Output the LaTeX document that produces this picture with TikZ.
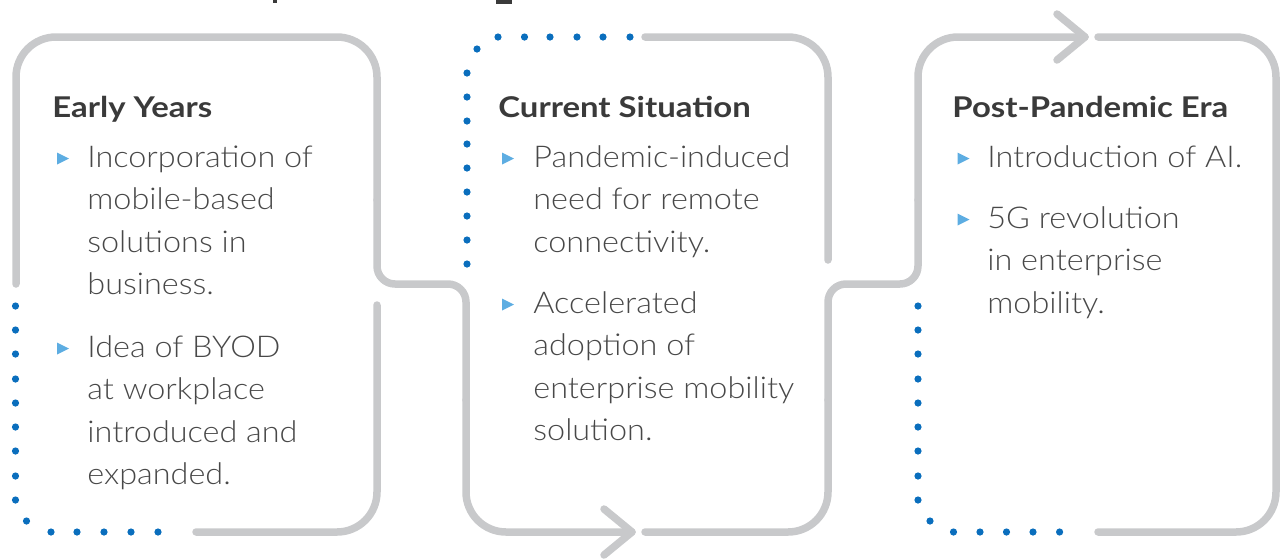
\documentclass[tikz,border=0pt]{standalone}
\usepackage{fontspec}
\setmainfont{Lato}
\newfontfamily\bodyfamily{Lato}[UprightFont={* Light}, FakeStretch=1.08]
\newfontfamily\headfamily{Lato}[UprightFont={* Bold}, FakeStretch=1.15]

\definecolor{framegray}{HTML}{C8C9CB}
\definecolor{dotblue}{HTML}{0A6EBD}
\definecolor{tipblue}{HTML}{5DADE2}
\definecolor{headgray}{HTML}{3A3A3A}
\definecolor{bodygray}{HTML}{484848}

\newcommand\itemlines[1]{\begin{tabular}[t]{@{}l@{}}#1\end{tabular}}

\tikzset{
  frame/.style={draw=framegray, line width=3.75pt, line cap=round, line join=round},
  bigbend/.style={frame, rounded corners=20pt},
  smallbend/.style={frame, rounded corners=9pt},
  heading/.style={anchor=base west, inner sep=0pt, text=headgray,
    font=\headfamily\fontsize{14.3}{17}\selectfont},
  itemtext/.style={anchor=base west, inner sep=0pt, text=bodygray,
    font=\bodyfamily\fontsize{15}{21.25}\selectfont},
}

% dots of the open (dotted) corners
\newcommand\bluedot[2]{\fill[dotblue] (#1,#2) circle[radius=1.8pt];}
% small right-pointing bullet, #1 = left x, #2 = centre y
\newcommand\bullettri[2]{\fill[tipblue] (#1,#2-6) -- (#1+12,#2) -- (#1,#2+6) -- cycle;}

\begin{document}
\begin{tikzpicture}[x=0.5pt, y=-0.5pt]
\useasboundingbox (0,0) rectangle (1282,559);

% descenders of the title above the frames
\fill[headgray] (272.7,0) rectangle (276.7,3.3);
\fill[headgray] (495.7,0) rectangle (512.3,3.5);

% ---------- first frame ----------
\draw[bigbend] (16,284) -- (16,37) -- (377,37) -- (377,200);
\draw[smallbend] (377,200) -- (377,284) -- (466,284) -- (466,400);
\draw[bigbend] (466,400) -- (466,532) -- (632,532);
\draw[frame] (604,509) -- (632,532) -- (604,555);
\draw[bigbend] (377,305) -- (377,532) -- (196,532);

\foreach \y in {306,330,354,379,403,427,451,476,500} {\bluedot{15.5}{\y}}
\bluedot{26.5}{521}
\foreach \x in {51,77,104,131,158} {\bluedot{\x}{532}}

% ---------- second frame ----------
\draw[bigbend] (645,37) -- (828,37) -- (828,260);
\draw[bigbend] (645,532) -- (828,532) -- (828,400);
\draw[smallbend] (828,400) -- (828,284) -- (918,284) -- (918,200);
\draw[bigbend] (918,200) -- (918,37) -- (1085,37);
\draw[frame] (1057,14) -- (1085,37) -- (1057,60);

\foreach \x in {498,524.5,550,577,603,630} {\bluedot{\x}{37}}
\bluedot{477}{49}
\foreach \y in {73,97,121,144,168,192,216,240,264} {\bluedot{467}{\y}}

% ---------- third frame ----------
\draw[bigbend] (1098,37) -- (1276,37) -- (1276,532) -- (1098,532);

\foreach \y in {306,330,354,379,403,427,451,476,500} {\bluedot{918}{\y}}
\bluedot{930}{521}
\foreach \x in {953.5,980,1006.5,1033,1059.6} {\bluedot{\x}{532}}

% ---------- texts ----------
\node[heading] (h1) at (52,117) {Early Years};
\bullettri{57}{158.5}
\node[itemtext] (e1) at (87,167) {\itemlines{Incorporation of\\mobile-based\\solutions in\\business.}};
\bullettri{57}{348.5}
\node[itemtext] (e2) at (87,357) {\itemlines{Idea of BYOD\\at workplace\\introduced and\\expanded.}};

\node[heading] (h2) at (498,117) {Current Situation};
\bullettri{502}{158.5}
\node[itemtext] (c1) at (533,167) {\itemlines{Pandemic-induced\\need for remote\\connectivity.}};
\bullettri{502}{304.5}
\node[itemtext] (c2) at (533,313) {\itemlines{Accelerated\\adoption of\\enterprise mobility\\solution.}};

\node[heading] (h3) at (952,117) {Post-Pandemic Era};
\bullettri{957.5}{158.5}
\node[itemtext] (p1) at (987,167) {\itemlines{Introduction of AI.}};
\bullettri{957.5}{219.5}
\node[itemtext] (p2) at (987,228) {\itemlines{5G revolution\\in enterprise\\mobility.}};
\end{tikzpicture}
\end{document}
